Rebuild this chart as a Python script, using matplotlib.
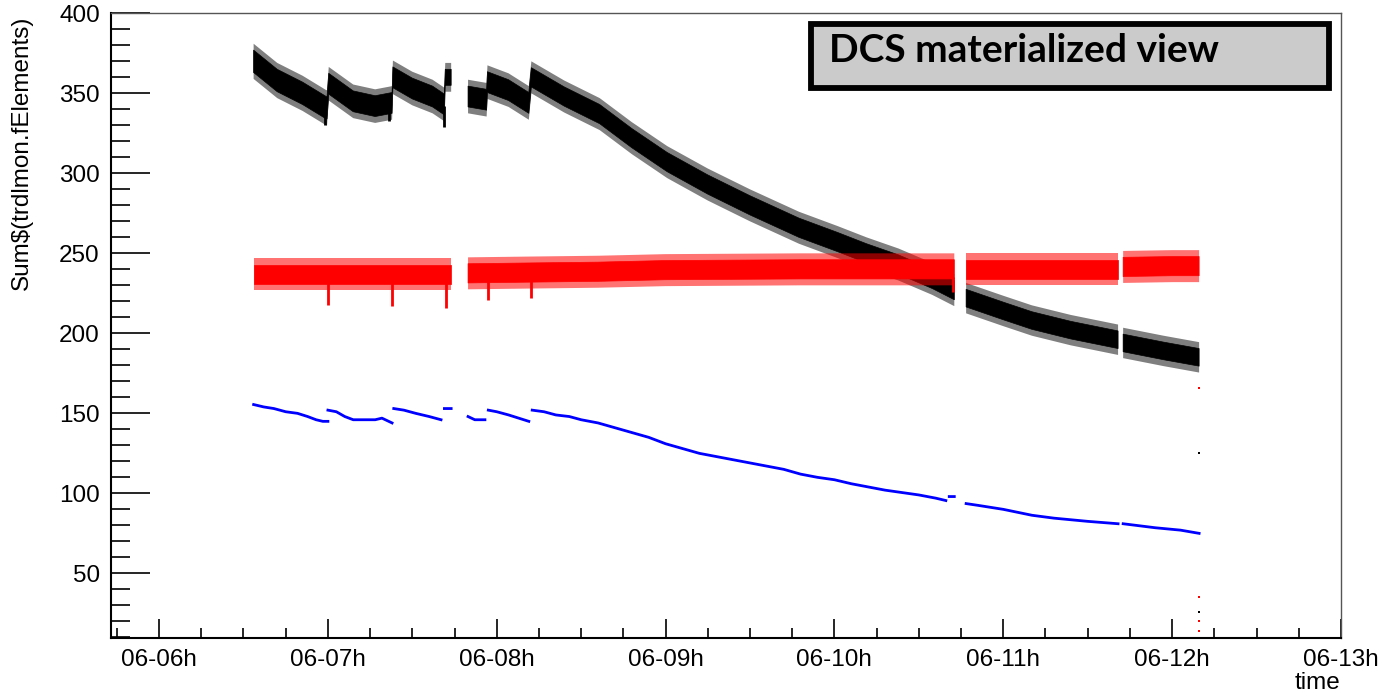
import numpy as np
import matplotlib
matplotlib.use("Agg")
import matplotlib.pyplot as plt
from matplotlib.patches import Rectangle
from matplotlib.ticker import MultipleLocator, FuncFormatter

# time axis in days of the month (06-DDh labels), NaN marks a gap in the record
black_x = [6.56, 6.70, 6.85, 6.99, 6.995,
           7.005, 7.15, 7.28, 7.38,
           7.385, 7.50, 7.62, 7.69, 7.695, 7.73, np.nan,
           7.83, 7.94,
           7.945, 8.07, 8.19,
           8.205, 8.40, 8.61, 8.80, 9.01, 9.25, 9.50, 9.79, 10.02, 10.19, 10.38, 10.58, 10.71, np.nan,
           10.78, 11.00, 11.17, 11.40, 11.68, np.nan,
           11.71, 11.95, 12.16]
black_mid = [370, 358, 350, 341, 341,
             356, 345, 342, 344,
             360, 353, 348, 343, 360, 360, np.nan,
             348, 346,
             357, 352, 344,
             360, 348, 337, 322, 307, 293, 280, 266, 257, 250, 243, 234, 227, np.nan,
             222, 214, 208, 202, 196, np.nan,
             194, 189, 185]
black_half = [7, 7, 7, 7, 7,
              6.5, 6.5, 6.5, 6.5,
              6.5, 6.5, 6.5, 6.5, 5, 5, np.nan,
              6.5, 6.5,
              6.5, 6.5, 6.5,
              6, 6, 6, 6, 6, 6, 6, 6, 6, 6, 6, 6, 6, np.nan,
              5.5, 5.5, 5.5, 5.5, 5.5, np.nan,
              5.5, 5.5, 5.5]

red_x = [6.56, 7.00, 7.38, 7.73, np.nan,
         7.83, 8.20, 8.60, 9.00, 9.80, 10.71, np.nan,
         10.78, 11.20, 11.68, np.nan,
         11.71, 12.00, 12.16]
red_mid = [237, 237, 237, 237, np.nan,
           237.5, 238, 238.5, 239.5, 240, 240, np.nan,
           240, 240, 240, np.nan,
           241.5, 242, 242]
red_half = [6, 6, 6, 6, np.nan,
            6, 6, 6, 6, 6, 6, np.nan,
            6, 6, 6, np.nan,
            6, 6, 6]

# short drops below the bands
black_drop_x = [6.98, 7.36, 7.69]
black_drop_lo = [330, 333, 329]
black_drop_hi = [340, 342, 342]
red_drop_x = [7.00, 7.38, 7.70, 7.95, 8.20, 10.70]
red_drop_lo = [218, 217, 216, 221, 222, 226]

# stray readings at the end of the run
stray_black_x = [12.16, 12.16]
stray_black_y = [125, 26]
stray_red_x = [12.16, 12.16, 12.16, 12.16]
stray_red_y = [166, 35, 20, 14]

blue_x = [6.56, 6.62, 6.68, 6.75, 6.82, 6.88, 6.93, 6.97, 7.00, np.nan,
          7.00, 7.05, 7.10, 7.15, 7.28, 7.32, 7.36, 7.38, np.nan,
          7.39, 7.45, 7.52, 7.60, 7.67, np.nan, 7.69, 7.73, np.nan,
          7.83, 7.87, 7.93, np.nan, 7.95, 8.00, 8.07, 8.13, 8.19, np.nan,
          8.21, 8.28, 8.35, 8.43, 8.50, 8.60, 8.70, 8.80, 8.90, 9.00, 9.10, 9.20, 9.30, 9.40,
          9.50, 9.60, 9.70, 9.80, 9.90, 10.00, 10.10, 10.20, 10.30, 10.40, 10.50, 10.60, 10.66,
          np.nan, 10.68, 10.71, np.nan,
          10.78, 10.85, 11.00, 11.17, 11.30, 11.50, 11.68, np.nan,
          11.71, 11.90, 12.05, 12.16]
blue_y = [155.5, 154, 153, 151, 150, 148, 146, 145, 145, np.nan,
          152, 151, 148, 146, 146, 147, 145, 144, np.nan,
          153, 152, 150, 148, 146, np.nan, 153, 153, np.nan,
          148, 146, 146, np.nan, 152, 151, 149, 147, 145, np.nan,
          152, 151, 149, 148, 146, 144, 141, 138, 135, 131, 128, 125, 123, 121,
          119, 117, 115, 112, 110, 108.5, 106, 104, 102, 100.5, 99, 97, 95.5,
          np.nan, 98, 98, np.nan,
          93.6, 92.5, 90, 86.3, 84.5, 82.5, 81, np.nan,
          81, 78.5, 77, 75]

plt.rcParams['font.family'] = ['Liberation Sans', 'DejaVu Sans']

fig = plt.figure(figsize=(13.8, 6.94), dpi=100)
ax = fig.add_axes([0.0804, 0.0807, 0.8913, 0.9001])

# scattered fringe drawn faint, dense core drawn solid
fringe = 4.0
bx = np.array(black_x, dtype=float)
bm = np.array(black_mid, dtype=float)
bh = np.array(black_half, dtype=float)
ax.fill_between(bx, bm - bh - fringe, bm + bh + fringe, color="black", alpha=0.5, lw=0, zorder=2)
ax.fill_between(bx, bm - bh, bm + bh, color="black", lw=0.5, zorder=2)
ax.vlines(black_drop_x, black_drop_lo, black_drop_hi, color="black", lw=2, zorder=2)

rx = np.array(red_x, dtype=float)
rm = np.array(red_mid, dtype=float)
rh = np.array(red_half, dtype=float)
ax.fill_between(rx, rm - rh - fringe, rm + rh + fringe, color="red", alpha=0.55, lw=0, zorder=3)
ax.fill_between(rx, rm - rh, rm + rh, color="red", lw=0.5, zorder=3)
ax.vlines(red_drop_x, red_drop_lo, 235, color="red", lw=2, zorder=3)

ax.plot(stray_black_x, stray_black_y, "s", color="black", ms=1.6, mew=0, zorder=4)
ax.plot(stray_red_x, stray_red_y, "s", color="red", ms=1.6, mew=0, zorder=4)

ax.plot(blue_x, blue_y, color="blue", lw=2, zorder=5)

ax.set_xlim(5.715, 13.0)
ax.set_ylim(9.6, 400)

ax.xaxis.set_major_locator(MultipleLocator(1))
ax.xaxis.set_minor_locator(MultipleLocator(0.25))
ax.xaxis.set_major_formatter(FuncFormatter(lambda v, p: f"06-{int(round(v)):02d}h"))
ax.yaxis.set_major_locator(MultipleLocator(50))
ax.yaxis.set_minor_locator(MultipleLocator(10))

ax.tick_params(axis="both", which="both", direction="in", labelsize=17.5,
               top=False, right=False, color="black", width=1.2)
ax.tick_params(axis="x", which="major", length=14, pad=8)
ax.tick_params(axis="x", which="minor", length=7)
ax.tick_params(axis="y", which="major", length=28, pad=8)
ax.tick_params(axis="y", which="minor", length=14)

for side in ["left", "bottom"]:
    ax.spines[side].set_linewidth(1.5)
for side in ["top", "right"]:
    ax.spines[side].set_linewidth(1.0)
    ax.spines[side].set_color("#555555")

fig.text(0.016, 0.978, "Sum$(trdlmon.fElements)", rotation=90, ha="center", va="top",
         fontsize=17.5)
fig.text(0.971, 0.0, "time", ha="right", va="bottom", fontsize=17.5)

# title box
fig.patches.append(Rectangle((811 / 1380, 1 - 88 / 694), 518 / 1380, 64.3 / 694,
                             transform=fig.transFigure, facecolor="#cbcbcb",
                             edgecolor="black", lw=4.2, zorder=10))
fig.text(829 / 1380, 1 - 51 / 694, "DCS materialized view", ha="left", va="center",
         fontsize=28, fontweight="bold", family=["Lato", "DejaVu Sans"], zorder=11)

fig.savefig("out.png", dpi=100)
